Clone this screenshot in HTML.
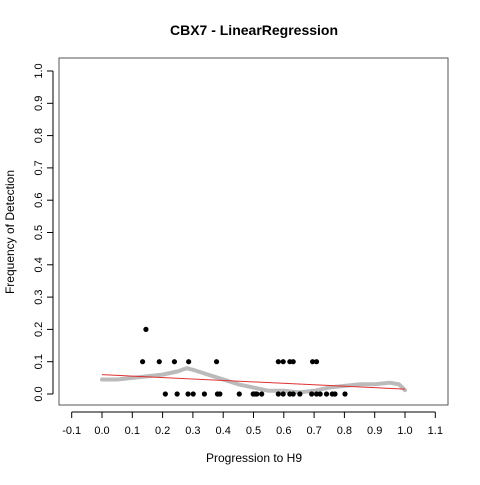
<!DOCTYPE html>
<html><head><meta charset="utf-8"><style>
body{margin:0;background:#fff}
svg text{font-family:"Liberation Sans",sans-serif}
</style></head><body>
<svg id="c" width="480" height="480" xmlns="http://www.w3.org/2000/svg">
<rect width="480" height="480" fill="#fff"/>
<text x="254" y="35" text-anchor="middle" font-size="14" font-weight="bold">CBX7 - LinearRegression</text>
<rect x="59" y="58" width="389" height="347" fill="none" stroke="#555"/>
<text x="254" y="462" text-anchor="middle" font-size="12">Progression to H9</text>
<text transform="translate(14,232) rotate(-90)" text-anchor="middle" font-size="12">Frequency of Detection</text>
<g id="axes"></g><g id="marks"></g>
</svg>
<script>
const xTicks=[-0.1,0,0.1,0.2,0.3,0.4,0.5,0.6,0.7,0.8,0.9,1.0,1.1];
const yTicks=[0,0.1,0.2,0.3,0.4,0.5,0.6,0.7,0.8,0.9,1.0];
const obsX=[0.145,0.134,0.189,0.239,0.286,0.378,0.209,0.248,0.284,0.301,0.338,0.381,0.389,0.453,0.499,0.511,0.582,0.598,0.620,0.631,0.695,0.708,0.505,0.527,0.582,0.598,0.631,0.653,0.692,0.708,0.741,0.769,0.802,0.62,0.72,0.76];
const obsY=[0.2,0.1,0.1,0.1,0.1,0.1,0,0,0,0,0,0,0,0,0,0,0.1,0.1,0.1,0.1,0.1,0.1,0,0,0,0,0,0,0,0,0,0,0,0,0,0];
const smoothX=[0,0.05,0.1,0.15,0.2,0.25,0.28,0.3,0.35,0.4,0.45,0.5,0.55,0.6,0.65,0.7,0.75,0.8,0.85,0.9,0.95,0.98,1.0];
const smoothY=[0.045,0.045,0.05,0.055,0.06,0.07,0.08,0.075,0.06,0.045,0.03,0.02,0.01,0.01,0.005,0.01,0.02,0.025,0.03,0.03,0.035,0.03,0.012];
const regX=[0,1];
const regY=[0.06,0.015];
const X=v=>102+v*303, Y=v=>394-v*323;
const NS="http://www.w3.org/2000/svg";
const ax=document.getElementById('axes'), mk=document.getElementById('marks');
function mkEl(t,a,p){const e=document.createElementNS(NS,t);for(const k in a)e.setAttribute(k,a[k]);p.appendChild(e);return e;}
let e=mkEl('line',{x1:X(-0.1),x2:X(1.1),y1:412,y2:412,stroke:'#000'},ax);


e=mkEl('line',{x1:53,x2:53,y1:Y(0),y2:Y(1),stroke:'#000'},ax);


xTicks.forEach(t=>{
 mkEl('line',{x1:X(t),x2:X(t),y1:412,y2:418,stroke:'#000'},ax);
 const tx=mkEl('text',{x:X(t),y:434,'text-anchor':'middle','font-size':11},ax);
 tx.textContent=t.toFixed(1);
 
 
});
yTicks.forEach(t=>{
 mkEl('line',{x1:47,x2:53,y1:Y(t),y2:Y(t),stroke:'#000'},ax);
 const tx=mkEl('text',{transform:`translate(42,${Y(t)}) rotate(-90)`,'text-anchor':'middle','font-size':11},ax);
 tx.textContent=t.toFixed(1);
 
 
});
const pl=mkEl('polyline',{points:smoothX.map((x,i)=>X(x)+','+Y(smoothY[i])).join(' '),fill:'none',stroke:'#bbb','stroke-width':4,'stroke-linecap':'round','stroke-linejoin':'round'},mk);


obsX.forEach((x,i)=>{
 const c=mkEl('circle',{cx:X(x),cy:Y(obsY[i]),r:2.6,fill:'#000'},mk);
 
 
});
const rl=mkEl('line',{x1:X(regX[0]),y1:Y(regY[0]),x2:X(regX[1]),y2:Y(regY[1]),stroke:'#e03030','stroke-width':1},mk);


</script>
</body></html>
